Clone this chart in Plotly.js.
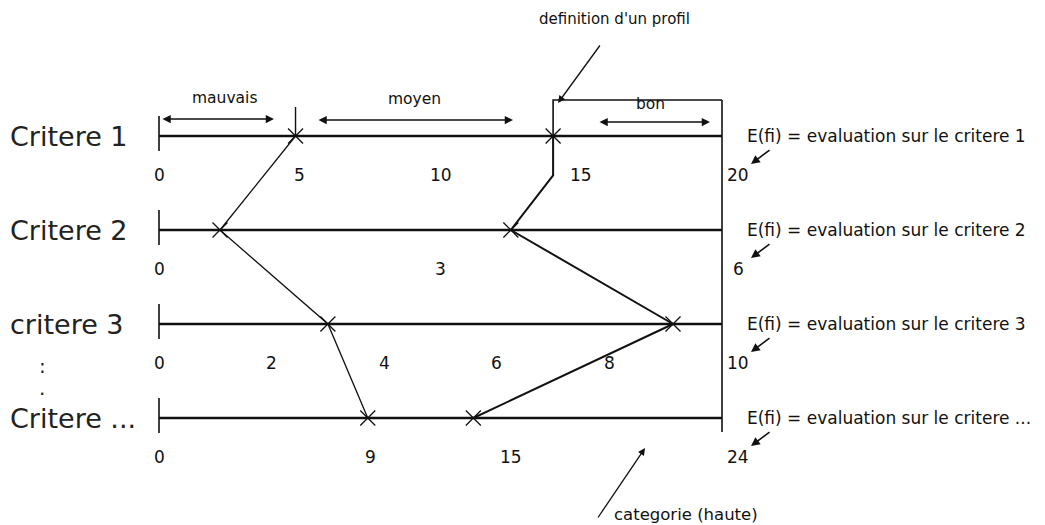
<!DOCTYPE html>
<html><head><meta charset="utf-8">
<script src="https://cdn.plot.ly/plotly-3.0.1.min.js"></script>
<style>html,body{margin:0;padding:0;background:#fff}#chart{width:1045px;height:525px}</style>
</head><body><div id="chart"></div>
<script>
// ---- data ----
const criteria = ['Critere 1', 'Critere 2', 'critere 3', 'Critere ...'];
const scaleMax = [20, 6, 10, 24];
const ticksC1 = [0, 5, 10, 15, 20];
const ticksC2 = [0, 3, 6];
const ticksC3 = [0, 2, 4, 6, 8, 10];
const ticksC4 = [0, 9, 15, 24];
const profileLow = [4.85, 0.65, 3.0, 8.9];
const profileHigh = [14.0, 3.75, 9.13, 13.4];
const highJog = {value: 14.0, row: 0.42};
const evalLabels = ['E(fi) = evaluation sur le critere 1', 'E(fi) = evaluation sur le critere 2',
  'E(fi) = evaluation sur le critere 3', 'E(fi) = evaluation sur le critere ...'];
const categories = ['mauvais', 'moyen', 'bon'];
const tickSets = [ticksC1, ticksC2, ticksC3, ticksC4];

// ---- geometry helpers (layout only) ----
const W = 1045, H = 525, X0 = 159, X1 = 722, ROW0 = 136, STEP = 94;
const px = p => (p - X0) / (X1 - X0);
const py = p => (p - ROW0) / STEP;
const rows = criteria.map((_, i) => i);
const frac = (v, i) => v / scaleMax[i];

const FONT = 'DejaVu Sans, sans-serif';
const INK = '#111';
const traces = [];
// scale lines
rows.forEach(i => {
  traces.push({x: [0, frac(scaleMax[i], i)], y: [i, i], mode: 'lines', line: {color: INK, width: 2.6}, hoverinfo: 'skip'});
  traces.push({x: [0, 0], y: [i + py(ROW0 - 20), i + py(ROW0 + 15)], mode: 'lines', line: {color: INK, width: 1.6}, hoverinfo: 'skip'});
});
// right vertical border
traces.push({x: [1, 1], y: [py(100), py(432)], mode: 'lines', line: {color: INK, width: 1.6}, hoverinfo: 'skip'});
// profile box (definition d'un profil)
const bx = frac(profileHigh[0], 0);
traces.push({x: [bx, bx, 1], y: [0, py(100), py(100)], mode: 'lines', line: {color: INK, width: 1.6}, hoverinfo: 'skip'});
// boundary tick for low profile
const lx = frac(profileLow[0], 0);
traces.push({x: [lx, lx], y: [py(107), 0], mode: 'lines', line: {color: INK, width: 1.4}, hoverinfo: 'skip'});
// profiles
traces.push({x: profileLow.map(frac), y: rows, mode: 'lines', line: {color: INK, width: 1.3}, hoverinfo: 'skip'});
const hx = [frac(profileHigh[0], 0), frac(highJog.value, 0)].concat(profileHigh.slice(1).map((v, k) => frac(v, k + 1)));
const hy = [0, highJog.row, 1, 2, 3];
traces.push({x: hx, y: hy, mode: 'lines', line: {color: INK, width: 2.0}, hoverinfo: 'skip'});
[profileLow, profileHigh].forEach(p => traces.push({x: p.map(frac), y: rows, mode: 'markers',
  marker: {symbol: 'x-thin-open', size: 15, color: INK, line: {color: INK, width: 1.3}}, hoverinfo: 'skip'}));

const ann = [];
rows.forEach(i => {
  ann.push({x: px(8), y: i, xref: 'x', yref: 'y', text: criteria[i], showarrow: false, xanchor: 'left', yanchor: 'middle',
    font: {family: FONT, size: 27, color: '#222'}});
  ann.push({x: px(745), y: i, xref: 'x', yref: 'y', text: evalLabels[i], showarrow: false, xanchor: 'left', yanchor: 'middle',
    font: {family: FONT, size: 17, color: INK}});
  tickSets[i].forEach(t => {
    const last = t === scaleMax[i];
    ann.push({x: frac(t, i), y: i + 0.41, xref: 'x', yref: 'y', text: String(t), showarrow: false,
      xanchor: 'center', yanchor: 'middle', xshift: last ? 16 : 0, font: {family: FONT, size: 17, color: INK}});
  });
  ann.push({x: px(751), y: i + py(ROW0 + 28), ax: px(771), ay: i + py(ROW0 + 13), xref: 'x', yref: 'y', axref: 'x', ayref: 'y',
    text: '', showarrow: true, arrowhead: 2, arrowsize: 1.1, arrowwidth: 1.6, arrowcolor: INK, standoff: 0});
});
// colon under critere 3
ann.push({x: px(42), y: py(366), xref: 'x', yref: 'y', text: ':', showarrow: false, font: {family: FONT, size: 20, color: '#222'}});
ann.push({x: px(42), y: py(388), xref: 'x', yref: 'y', text: '.', showarrow: false, font: {family: FONT, size: 20, color: '#222'}});
// categories with double-headed arrows
const catText = [[224, 98], [414, 99], [650, 104]];
const catArrow = [[161, 274, 119], [317, 513, 120], [598, 710, 122]];
categories.forEach((c, k) => {
  ann.push({x: px(catText[k][0]), y: py(catText[k][1]), xref: 'x', yref: 'y', text: c, showarrow: false,
    font: {family: FONT, size: 15.5, color: INK}});
  const a = catArrow[k];
  ann.push({x: px(a[1]), y: py(a[2]), ax: px(a[0]), ay: py(a[2]), xref: 'x', yref: 'y', axref: 'x', ayref: 'y',
    text: '', showarrow: true, arrowside: 'end+start', arrowhead: 2, startarrowhead: 2, arrowsize: 1.1, startarrowsize: 1.1,
    arrowwidth: 1.5, arrowcolor: INK, standoff: 0, startstandoff: 0});
});
// definition d'un profil
ann.push({x: px(614), y: py(19), xref: 'x', yref: 'y', text: "definition d'un profil", showarrow: false,
  font: {family: FONT, size: 15, color: INK}});
ann.push({x: px(558), y: py(103), ax: px(601), ay: py(44), xref: 'x', yref: 'y', axref: 'x', ayref: 'y',
  text: '', showarrow: true, arrowhead: 2, arrowsize: 1.1, arrowwidth: 1.3, arrowcolor: INK, standoff: 0});
// categorie (haute)
ann.push({x: px(612), y: py(514), xref: 'x', yref: 'y', text: 'categorie (haute)', showarrow: false, xanchor: 'left',
  font: {family: FONT, size: 16.5, color: INK}});
ann.push({x: px(645), y: py(448), ax: px(597), ay: py(519), xref: 'x', yref: 'y', axref: 'x', ayref: 'y',
  text: '', showarrow: true, arrowhead: 2, arrowsize: 1.1, arrowwidth: 1.3, arrowcolor: INK, standoff: 0});

const layout = {
  width: W, height: H, margin: {l: 0, r: 0, t: 0, b: 0},
  paper_bgcolor: '#fff', plot_bgcolor: '#fff', showlegend: false,
  xaxis: {range: [px(0), px(W)], visible: false, fixedrange: true},
  yaxis: {range: [py(H), py(0)], visible: false, fixedrange: true},
  annotations: ann
};
Plotly.newPlot('chart', traces, layout, {staticPlot: true});
</script></body></html>
